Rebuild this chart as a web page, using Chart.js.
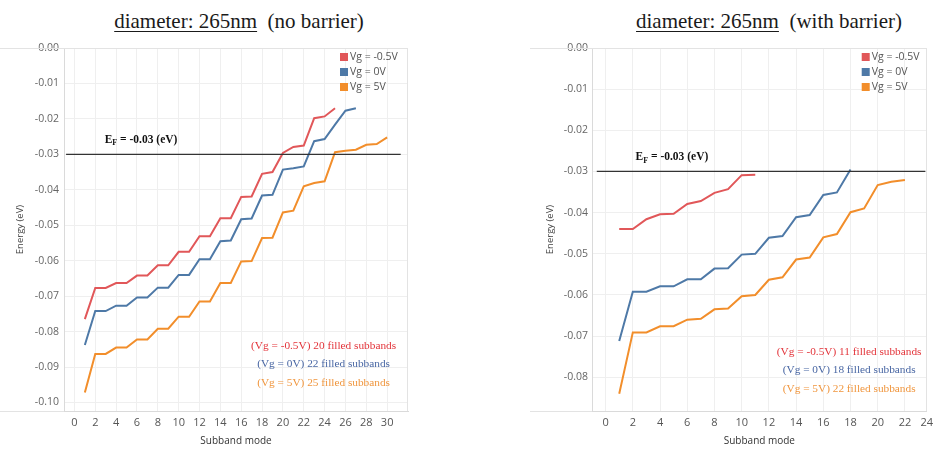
<!DOCTYPE html>
<html>
<head>
<meta charset="utf-8">
<script src="https://cdn.jsdelivr.net/npm/chart.js@4.4.1/dist/chart.umd.min.js"></script>
<style>
  html, body { margin: 0; padding: 0; background: #fff; overflow: hidden; }
  body { width: 938px; height: 450px; position: relative; }
  .title {
    position: absolute; top: 9px; line-height: 24px;
    font-family: "Liberation Serif", "Times New Roman", serif;
    font-size: 21px; color: #1a1a1a; white-space: pre;
    transform: translateX(-50%);
  }
  .title u { text-decoration-thickness: 1px; text-underline-offset: 3px; }
  .box { position: absolute; top: 0; height: 450px; }
</style>
</head>
<body>
<div class="title" style="left:239px"><u>diameter: 265nm</u>  (no barrier)</div>
<div class="title" style="left:769px"><u>diameter: 265nm</u>  (with barrier)</div>
<div class="box" style="left:0;width:420px"><canvas id="leftChart"></canvas></div>
<div class="box" style="left:530px;width:408px"><canvas id="rightChart"></canvas></div>

<script>
// series labels + colours
const seriesLabels = ["Vg = -0.5V", "Vg = 0V", "Vg = 5V"];
const seriesColors = ["#e15759", "#4e79a7", "#f28e2b"];
const noteColors = ["#e3343a", "#4866a3", "#f0963e"];

// Fermi level
const efEnergy = -0.03;
const efLabel = ["E", "F", " = -0.03 (eV)"];

// ---- no barrier (left) ----
const leftRed = [-0.0765, -0.0677, -0.0677, -0.0663, -0.0663, -0.0642, -0.0642, -0.0613, -0.0613, -0.0575,
  -0.0575, -0.0531, -0.0531, -0.0480, -0.0480, -0.0420, -0.0419, -0.0355, -0.0350, -0.0296,
  -0.0279, -0.0275, -0.0198, -0.0193, -0.0170];
const leftBlue = [-0.0838, -0.0742, -0.0742, -0.0727, -0.0727, -0.0704, -0.0704, -0.0676, -0.0676, -0.0640,
  -0.0640, -0.0596, -0.0596, -0.0545, -0.0543, -0.0483, -0.0481, -0.0416, -0.0414, -0.0343,
  -0.0339, -0.0334, -0.0263, -0.0257, -0.0216, -0.0177, -0.0170];
const leftOrange = [-0.0972, -0.0863, -0.0863, -0.0845, -0.0845, -0.0822, -0.0822, -0.0792, -0.0792, -0.0758,
  -0.0758, -0.0715, -0.0715, -0.0663, -0.0663, -0.0602, -0.0601, -0.0536, -0.0535, -0.0464,
  -0.0459, -0.0390, -0.0381, -0.0376, -0.0294, -0.0290, -0.0287, -0.0273, -0.0271, -0.0252];
const leftXTicks = [0, 2, 4, 6, 8, 10, 12, 14, 16, 18, 20, 22, 24, 26, 28, 30];
const leftYTicks = [0, -0.01, -0.02, -0.03, -0.04, -0.05, -0.06, -0.07, -0.08, -0.09, -0.10];
const leftNotes = ["(Vg = -0.5V) 20 filled subbands", "(Vg = 0V) 22 filled subbands", "(Vg = 5V) 25 filled subbands"];

// ---- with barrier (right) ----
const rightRed = [-0.0440, -0.0440, -0.0416, -0.0404, -0.0403, -0.0379, -0.0372, -0.0352, -0.0343, -0.0309, -0.0308];
const rightBlue = [-0.0712, -0.0592, -0.0592, -0.0579, -0.0579, -0.0562, -0.0562, -0.0536, -0.0535, -0.0502,
  -0.0500, -0.0461, -0.0457, -0.0411, -0.0406, -0.0357, -0.0351, -0.0295];
const rightOrange = [-0.0840, -0.0691, -0.0691, -0.0676, -0.0676, -0.0660, -0.0658, -0.0635, -0.0633, -0.0603,
  -0.0600, -0.0563, -0.0557, -0.0514, -0.0509, -0.0460, -0.0452, -0.0399, -0.0390, -0.0333,
  -0.0325, -0.0321];
const rightXTicks = [0, 2, 4, 6, 8, 10, 12, 14, 16, 18, 20, 22, 24];
const rightYTicks = [0, -0.01, -0.02, -0.03, -0.04, -0.05, -0.06, -0.07, -0.08];
const rightNotes = ["(Vg = -0.5V) 11 filled subbands", "(Vg = 0V) 18 filled subbands", "(Vg = 5V) 22 filled subbands"];

// subband mode numbers start at 1
function toPoints(arr) {
  return arr.map((e, i) => ({ x: i + 1, y: e }));
}

// frame, legend, Ef label and the "filled subbands" notes
const extrasPlugin = {
  id: "extras",
  afterDatasetsDraw(chart, args, opts) {
    const { ctx, chartArea: a, scales } = chart;
    const x = scales.x, y = scales.y;
    ctx.save();

    // light frame round plot
    ctx.strokeStyle = "#e3e3e3";
    ctx.lineWidth = 1;
    ctx.beginPath();
    ctx.moveTo(0, Math.round(a.top) + 0.5);
    ctx.lineTo(a.right, Math.round(a.top) + 0.5);
    ctx.moveTo(Math.round(a.right) - 0.5, a.top);
    ctx.lineTo(Math.round(a.right) - 0.5, a.bottom);
    ctx.moveTo(0, Math.round(a.bottom) + 0.5);
    ctx.lineTo(a.left, Math.round(a.bottom) + 0.5);
    ctx.stroke();

    // legend top right
    ctx.textBaseline = "middle";
    ctx.textAlign = "left";
    ctx.font = '10.5px "Open Sans"';
    seriesLabels.forEach((lab, i) => {
      const yy = a.top + 9 + i * 15;
      const bx = a.right - opts.legendRight;
      ctx.fillStyle = seriesColors[i];
      ctx.fillRect(bx, yy - 4, 8, 8);
      ctx.fillStyle = "#555";
      ctx.fillText(lab, bx + 10, yy);
    });

    // Ef label
    let ex = x.getPixelForValue(opts.efX);
    const ey = y.getPixelForValue(efEnergy) - 14;
    ctx.fillStyle = "#111";
    ctx.font = 'bold 11.5px "Liberation Serif"';
    ctx.fillText(efLabel[0], ex, ey);
    ex += ctx.measureText(efLabel[0]).width;
    ctx.font = 'bold 8px "Liberation Serif"';
    ctx.fillText(efLabel[1], ex, ey + 3);
    ex += ctx.measureText(efLabel[1]).width;
    ctx.font = 'bold 11.5px "Liberation Serif"';
    ctx.fillText(efLabel[2], ex, ey);

    // notes
    ctx.textAlign = "center";
    ctx.font = '11.3px "Liberation Serif"';
    const nx = x.getPixelForValue(opts.noteX);
    const ny = y.getPixelForValue(opts.noteY);
    opts.notes.forEach((t, i) => {
      ctx.fillStyle = noteColors[i];
      ctx.fillText(t, nx, ny + i * opts.noteGap);
    });
    ctx.restore();
  }
};

function makeChart(id, s) {
  const datasets = [
    {
      label: "Ef",
      data: [{ x: s.efFrom, y: efEnergy }, { x: s.efTo, y: efEnergy }],
      borderColor: "#333", borderWidth: 1.2, pointRadius: 0
    }
  ];
  s.series.forEach((arr, i) => {
    datasets.push({
      label: seriesLabels[i],
      data: toPoints(arr),
      borderColor: seriesColors[i],
      borderWidth: 2,
      pointRadius: 0,
      tension: 0
    });
  });

  return new Chart(document.getElementById(id), {
    type: "line",
    data: { datasets: datasets },
    plugins: [extrasPlugin],
    options: {
      responsive: true,
      maintainAspectRatio: false,
      animation: false,
      layout: { padding: { top: 48, right: s.padRight, left: 0, bottom: 0 } },
      plugins: {
        legend: { display: false },
        tooltip: { enabled: false },
        extras: {
          legendRight: s.legendRight,
          efX: s.efX,
          notes: s.notes, noteX: s.noteX, noteY: s.noteY, noteGap: s.noteGap
        }
      },
      scales: {
        x: {
          type: "linear",
          min: -1,
          max: s.xMax,
          afterBuildTicks: sc => { sc.ticks = s.xTicks.map(v => ({ value: Math.min(v, sc.max) })); },
          afterFit: sc => { sc.height = 39; },
          grid: { color: "#efefef", drawTicks: false },
          border: { color: "#dadada" },
          ticks: {
            padding: 5, color: "#555", maxRotation: 0, autoSkip: false,
            font: { family: "Open Sans", size: 11 },
            callback: (v, i) => String(s.xTicks[i])
          },
          title: {
            display: true, text: "Subband mode", color: "#333",
            font: { family: "Open Sans", size: 10 },
            padding: { top: 2, bottom: 3 }
          }
        },
        y: {
          min: s.yMin,
          max: 0,
          afterBuildTicks: sc => { sc.ticks = s.yTicks.map(v => ({ value: v })); },
          afterFit: sc => { sc.width = s.yWidth; },
          grid: { color: "#efefef", drawTicks: false },
          border: { color: "#dadada" },
          ticks: {
            padding: s.yPad, color: "#666",
            font: { family: "Open Sans", size: 10.5 },
            callback: v => v.toFixed(2)
          },
          title: {
            display: true, text: "Energy (eV)", color: "#444",
            font: { family: "Open Sans", size: 9.5 },
            padding: { top: 15, bottom: 0 }
          }
        }
      }
    }
  });
}

makeChart("leftChart", {
  series: [leftRed, leftBlue, leftOrange],
  xTicks: leftXTicks, yTicks: leftYTicks,
  xMax: 32, yMin: -0.1024,
  yWidth: 64, yPad: 5, padRight: 12,
  efFrom: -0.8, efTo: 31.3, efX: 2.9,
  legendRight: 68,
  notes: leftNotes, noteX: 23.9, noteY: -0.0840, noteGap: 18.5
});

makeChart("rightChart", {
  series: [rightRed, rightBlue, rightOrange],
  xTicks: rightXTicks, yTicks: rightYTicks,
  xMax: 23.6, yMin: -0.0882,
  yWidth: 62, yPad: 4, padRight: 6,
  efFrom: -0.65, efTo: 23.5, efX: 2.2,
  legendRight: 65,
  notes: rightNotes, noteX: 17.9, noteY: -0.0738, noteGap: 18.7
});
</script>
</body>
</html>
